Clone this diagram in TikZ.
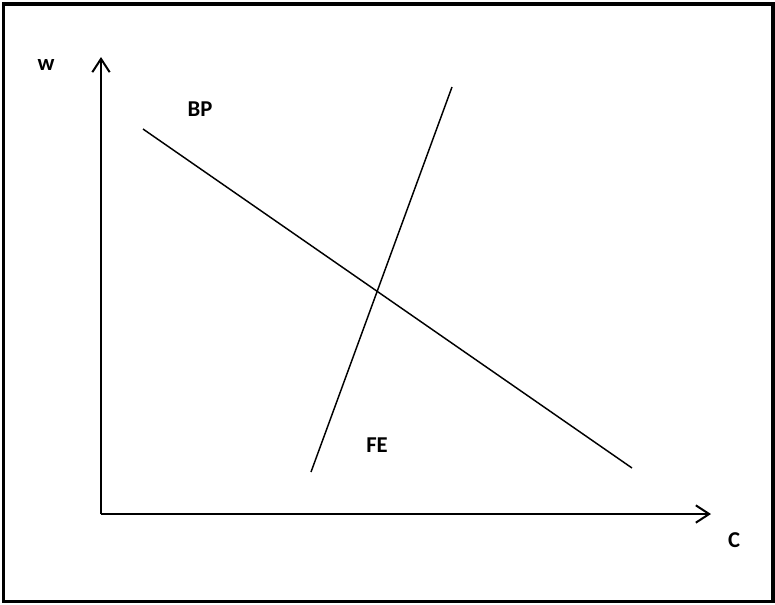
\documentclass[tikz,border=0pt]{standalone}
\usepackage{fontspec}
\setmainfont{Carlito}
\usetikzlibrary{arrows.meta}
\begin{document}
\begin{tikzpicture}[x=0.75pt,y=-0.75pt,
  axis/.style={line width=1.5pt,-{Straight Barb[length=10pt,width=13pt,line width=1.5pt]}},
  curve/.style={line width=1.1pt},
  lbl/.style={font=\fontsize{17}{20}\selectfont\bfseries,inner sep=0pt}]
\useasboundingbox (0,0) rectangle (775,604);
\draw[line width=2.6pt] (3.5,4) rectangle (773,601.5);
\coordinate (O) at (101,514);
\coordinate (ytip) at (101,57);
\coordinate (xtip) at (711,514);
\draw[axis] (O) -- (ytip);
\draw[axis] (O) -- (xtip);
\coordinate (bp1) at (143,129);
\coordinate (bp2) at (632,468);
\coordinate (fe1) at (311,472);
\coordinate (fe2) at (452,87);
\draw[curve] (bp1) -- (bp2);
\draw[curve] (fe1) -- (fe2);
\node[lbl] (w) at (46,65) {w};
\node[lbl] (bp) at (200,109) {BP};
\node[lbl] (fe) at (377,445) {FE};
\node[lbl] (c) at (734,540) {C};
\end{tikzpicture}
\end{document}
